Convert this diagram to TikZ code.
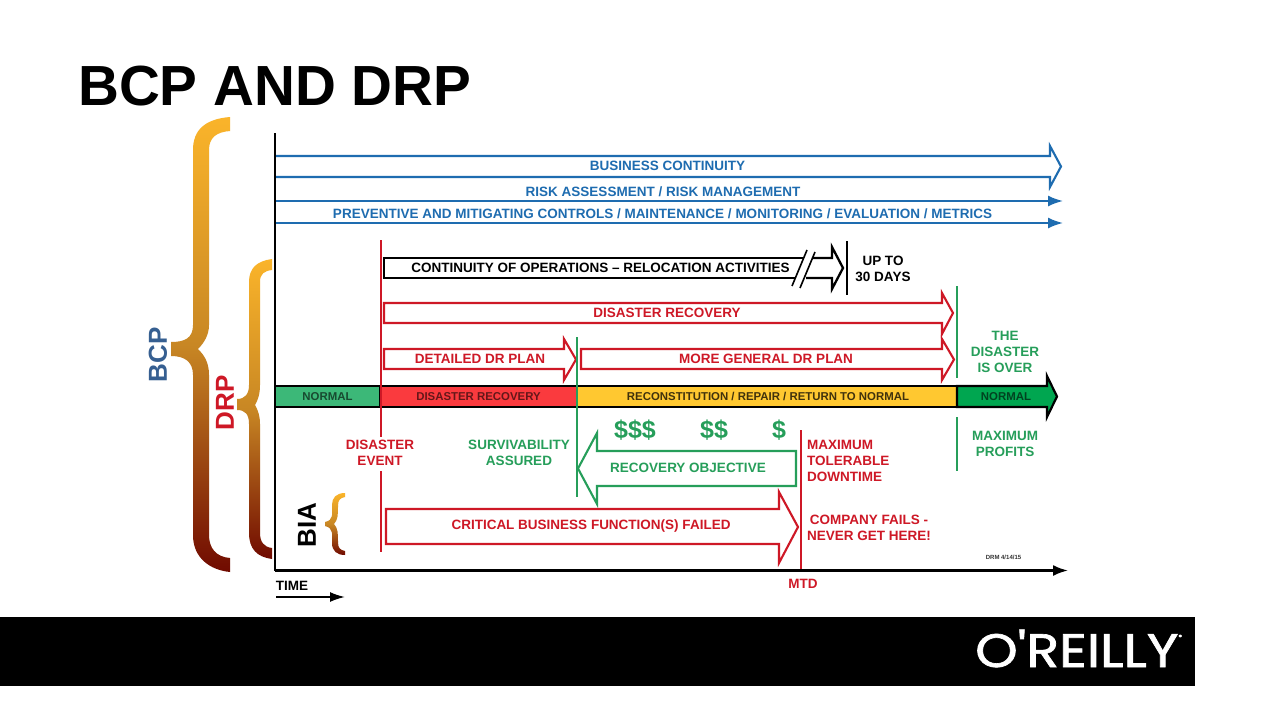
\documentclass[tikz,border=0pt]{standalone}
\usepackage{fontspec}
\setmainfont{Liberation Sans}
\newfontfamily\logofont[FakeBold=1.4]{Poppins}
\usetikzlibrary{arrows.meta}

\begin{document}
\begin{tikzpicture}[
  x=1pt,y=-1pt,
  >=Latex,
  axis/.style={line width=2.2pt,draw=black},
  barblue/.style={line width=2.1pt,draw=bcblue,line join=miter},
  barred/.style={line width=2.1pt,draw=drred,fill=white,line join=miter},
  bargreen/.style={line width=2.1pt,draw=drgreen,fill=white,line join=miter},
  barblack/.style={line width=2.3pt,draw=black,line join=miter},
  mark line/.style={line width=2pt},
  band/.style={line width=2.2pt,draw=black,line join=miter},
  label/.style={font=\fontsize{13.5}{16}\selectfont\bfseries,align=center,inner sep=0pt},
  bandlabel/.style={font=\fontsize{11.4}{13}\selectfont\bfseries,inner sep=0pt},
  side/.style={font=\fontsize{26}{30}\selectfont\bfseries,rotate=90,inner sep=0pt},
  money/.style={font=\fontsize{25}{27}\selectfont\bfseries,text=drgreen,inner sep=0pt},
  bracegrad/.style={top color=braceA,bottom color=braceC,middle color=braceB}
]

\definecolor{bcblue}{RGB}{30,108,176}
\definecolor{sideblue}{RGB}{54,95,145}
\definecolor{drred}{RGB}{206,24,38}
\definecolor{drgreen}{RGB}{38,158,90}
\definecolor{braceA}{RGB}{250,180,42}
\definecolor{braceB}{RGB}{200,135,36}
\definecolor{braceC}{RGB}{112,10,0}
\definecolor{bandgreen}{RGB}{60,184,120}
\definecolor{bandred}{RGB}{250,58,62}
\definecolor{bandyellow}{RGB}{255,200,48}
\definecolor{banddark}{RGB}{0,166,80}

\fill[white] (0,0) rectangle (1280,720);
\useasboundingbox (0,0) rectangle (1280,720);

\node[anchor=base west,inner sep=0pt,font=\fontsize{56.6}{60}\selectfont\bfseries]
  (title) at (78,105) {BCP AND DRP};

% Footer
\fill[black] (0,617) rectangle (1195,686);
\node[anchor=base west,inner sep=0pt,text=white,xscale=1.15,font=\fontsize{47}{50}\selectfont\logofont]
  (logo) at (975,667) {O'REILLY\raisebox{28pt}{\fontsize{6}{6}\selectfont ®}};

% Braces
\shade[bracegrad] (230,117) .. controls (205,119) and (193,130) .. (193,150)
  -- (193,325) .. controls (193,338) and (185,342) .. (171,342)
  -- (171,356) .. controls (185,356) and (193,362) .. (193,375)
  -- (193,535) .. controls (193,558) and (210,570) .. (230,572)
  -- (230,558) .. controls (216,557) and (209,548) .. (209,535)
  -- (209,375) .. controls (209,362) and (204,355) .. (198,349)
  .. controls (204,343) and (209,335) .. (209,325)
  -- (209,150) .. controls (209,138) and (216,132) .. (230,131) -- cycle;
\shade[bracegrad] (272,259) .. controls (257,261) and (249,268) .. (249,282)
  -- (249,385) .. controls (249,394) and (245,399) .. (237,399)
  -- (237,410) .. controls (245,410) and (249,414) .. (249,424)
  -- (249,533) .. controls (249,549) and (257,557) .. (272,559)
  -- (272,548) .. controls (264,547) and (260,542) .. (260,533)
  -- (260,424) .. controls (260,416) and (258,410) .. (255,405)
  .. controls (258,400) and (260,394) .. (260,385)
  -- (260,282) .. controls (260,274) and (264,271) .. (272,270) -- cycle;
\shade[bracegrad] (345,493) .. controls (336,493) and (332,498) .. (332,505)
  .. controls (332,514) and (334,520) .. (325,522)
  -- (325,526) .. controls (334,528) and (332,535) .. (332,543)
  .. controls (332,551) and (337,555) .. (345,555)
  -- (345,551) .. controls (340,550) and (338,548) .. (338,542)
  .. controls (338,534) and (338,528) .. (334,524)
  .. controls (338,520) and (338,514) .. (338,506)
  .. controls (338,500) and (340,498) .. (345,497) -- cycle;

\node[side,text=sideblue] (bcp) at (158,355) {BCP};
\node[side,text=drred] (drp) at (225,403) {DRP};
\node[side] (bia) at (307,525) {BIA};

% Blue bars
\draw[barblue] (275,156) -- (1050,156) -- (1050,146) -- (1061,166.5)
  -- (1050,187) -- (1050,177) -- (275,177);
\foreach \yy in {201,223}
  \draw[line width=2pt,draw=bcblue,-{Latex[length=15pt,width=11pt]}] (275,\yy) -- (1063,\yy);

\node[label,text=bcblue] (bc) at (667.5,165.5) {BUSINESS CONTINUITY};
\node[label,text=bcblue] (risk) at (663,192) {RISK ASSESSMENT / RISK MANAGEMENT};
\node[label,text=bcblue] (controls) at (662.5,213.5)
  {PREVENTIVE AND MITIGATING CONTROLS / MAINTENANCE / MONITORING / EVALUATION / METRICS};

% Continuity arrow, broken
\draw[barblack] (803,258) -- (384,258) -- (384,278) -- (795,278);
\draw[barblack] (812,258) -- (832,258) -- (832,247) -- (843,268) -- (832,289)
  -- (832,278) -- (806,278);
\draw[line width=1.6pt] (807,250) -- (792,286);
\draw[line width=1.6pt] (815,252) -- (800,288);
\draw[line width=2.2pt] (847,241) -- (847,295);
\node[label] (coop) at (600.5,267.5) {CONTINUITY OF OPERATIONS -- RELOCATION ACTIVITIES};
\node[label] (days) at (883,269) {UP TO\\30 DAYS};

% Red and green arrows
\draw[barred] (384,303) -- (942,303) -- (942,293) -- (953,313) -- (942,334)
  -- (942,323) -- (384,323) -- cycle;
\draw[barred] (384,349) -- (564,349) -- (564,339) -- (576,359.5) -- (564,380)
  -- (564,369) -- (384,369) -- cycle;
\draw[barred] (581,349) -- (942,349) -- (942,339) -- (954,359.5) -- (942,380)
  -- (942,369) -- (581,369) -- cycle;
\draw[bargreen] (796,451) -- (597,451) -- (597,433) -- (578,468.5) -- (597,504)
  -- (597,486) -- (796,486) -- cycle;
\draw[barred] (386,509) -- (779,509) -- (779,492) -- (798,527) -- (779,563)
  -- (779,544) -- (386,544) -- cycle;

\node[label,text=drred] (dr) at (667,313) {DISASTER RECOVERY};
\node[label,text=drred] (detail) at (480,359) {DETAILED DR PLAN};
\node[label,text=drred] (general) at (766,359) {MORE GENERAL DR PLAN};
\node[label,text=drgreen] (objective) at (688,467.5) {RECOVERY OBJECTIVE};
\node[label,text=drred] (critical) at (591,526) {CRITICAL BUSINESS FUNCTION(S) FAILED};

% Band
\fill[bandgreen] (275,386) rectangle (380,407);
\fill[bandred] (380,386) rectangle (577,407);
\fill[bandyellow] (577,386) rectangle (957,407);
\draw[band,fill=banddark] (957,386) -- (1047,386) -- (1047,376) -- (1057,396.5)
  -- (1047,417) -- (1047,407) -- (957,407) -- cycle;
\draw[band] (1047,386) -- (275,386) (275,407) -- (1047,407);
\foreach \xx in {380,577,957}
  \draw[band] (\xx,386) -- (\xx,407);

\node[bandlabel,text=black!60!bandgreen] (normala) at (327.5,396.5) {NORMAL};
\node[bandlabel,text=black!60!bandred] (recovery) at (478.5,396.5) {DISASTER RECOVERY};
\node[bandlabel,text=black!75!bandyellow] (recon) at (768,396.5) {RECONSTITUTION / REPAIR / RETURN TO NORMAL};
\node[bandlabel,text=black!60!banddark] (normalb) at (1006,396.5) {NORMAL};

% Marks
\draw[mark line,drred] (381,240) -- (381,437) (381,471) -- (381,552);
\draw[mark line,drgreen] (577,337) -- (577,497);
\draw[mark line,drgreen] (957,286) -- (957,378) (957,417) -- (957,471);
\draw[mark line,drred] (801,430) -- (801,571);

% Axes
\draw[axis] (275,133) -- (275,571);
\draw[axis,-{Latex[length=15pt,width=11pt]}] (275,570.5) -- (1068,570.5);
\draw[line width=1.8pt,-{Latex[length=15pt,width=10pt]}] (276,597) -- (345,597);

\node[label,text=drred] (event) at (380,453) {DISASTER\\EVENT};
\node[label,text=drgreen] (surv) at (519,453) {SURVIVABILITY\\ASSURED};
\node[label,text=drgreen] (over) at (1005,352) {THE\\DISASTER\\IS OVER};
\node[label,text=drgreen] (profits) at (1005,444) {MAXIMUM\\PROFITS};
\node[label,text=drred,align=left,anchor=west] (mtdown) at (807,461)
  {MAXIMUM\\TOLERABLE\\DOWNTIME};
\node[label,text=drred] (fails) at (869,528) {COMPANY FAILS -\\NEVER GET HERE!};
\node[label,text=drred] (mtd) at (803,584) {MTD};
\node[label] (time) at (292,585.5) {TIME};
\node[font=\fontsize{6}{7}\selectfont\bfseries,inner sep=0pt,text=black!80] (drm) at (1003.5,557) {DRM 4/14/15};

\node[money] (moneya) at (635,430) {\$\$\$};
\node[money] (moneyb) at (714,430) {\$\$};
\node[money] (moneyc) at (779,430) {\$};

\end{tikzpicture}
\end{document}
